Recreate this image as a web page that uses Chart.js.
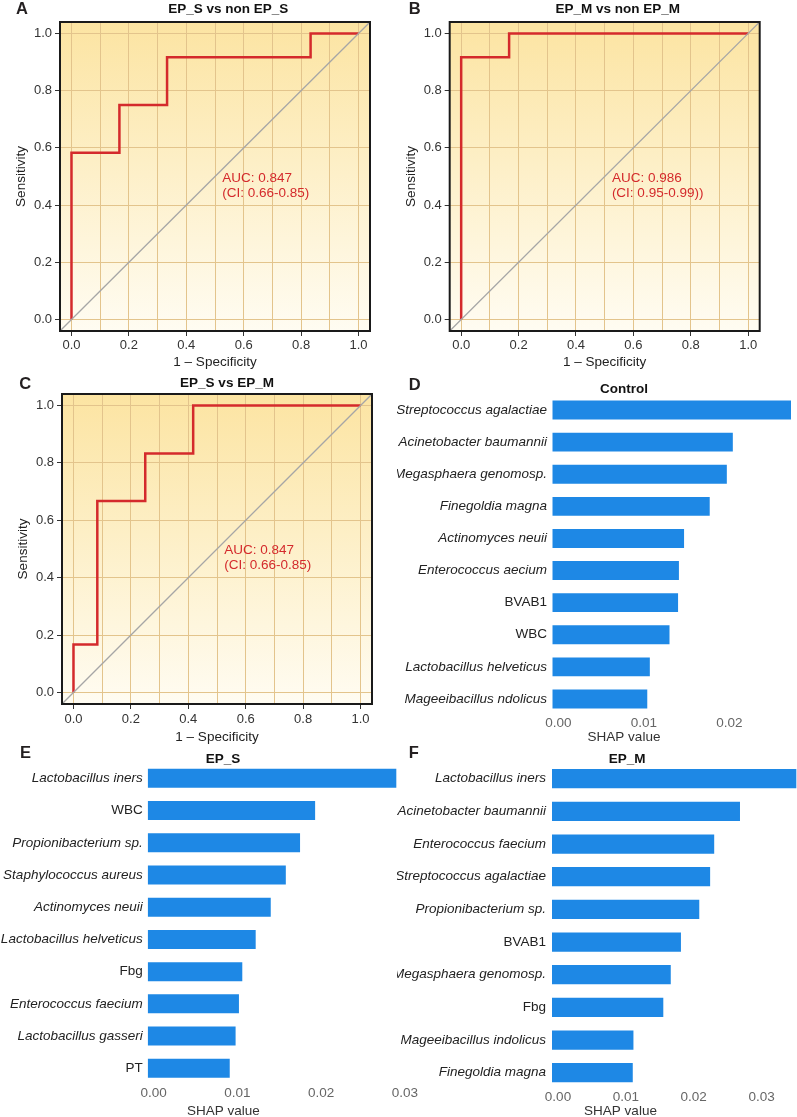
<!DOCTYPE html>
<html>
<head>
<meta charset="utf-8">
<title>ROC curves and SHAP values</title>
<script src="https://cdn.jsdelivr.net/npm/chart.js@4.4.1/dist/chart.umd.min.js"></script>
<style>
  body { margin: 0; background: #fff; }
  #wrap { position: relative; width: 797px; height: 1117px; overflow: hidden; background: #fff; }
  canvas { position: absolute; }
</style>
</head>
<body>
<div id="wrap">
  <canvas id="cA" width="397" height="370" style="left:0;top:0"></canvas>
  <canvas id="cB" width="400" height="370" style="left:397px;top:0"></canvas>
  <canvas id="cC" width="397" height="375" style="left:0;top:370px"></canvas>
  <canvas id="cD" width="400" height="375" style="left:397px;top:370px"></canvas>
  <canvas id="cE" width="430" height="377" style="left:0;top:740px"></canvas>
  <canvas id="cF" width="400" height="377" style="left:397px;top:740px"></canvas>
</div>
<script>
// ROC curves (1 - specificity, sensitivity)
const fprA = [0, 0, 0.167, 0.167, 0.333, 0.333, 0.833, 0.833, 1];
const tprA = [0, 0.583, 0.583, 0.75, 0.75, 0.917, 0.917, 1, 1];
const fprB = [0, 0, 0.167, 0.167, 1];
const tprB = [0, 0.917, 0.917, 1, 1];
const fprC = [0, 0, 0.083, 0.083, 0.25, 0.25, 0.417, 0.417, 1];
const tprC = [0, 0.167, 0.167, 0.667, 0.667, 0.833, 0.833, 1, 1];
const chanceLine = [-0.04, 1.04];
const aucA = ['AUC: 0.847', '(CI: 0.66-0.85)'];
const aucB = ['AUC: 0.986', '(CI: 0.95-0.99))'];
const aucC = ['AUC: 0.847', '(CI: 0.66-0.85)'];

// SHAP bar panels
const controlLabels = ['Streptococcus agalactiae', 'Acinetobacter baumannii', 'Megasphaera genomosp.', 'Finegoldia magna',
  'Actinomyces neuii', 'Enterococcus aecium', 'BVAB1', 'WBC', 'Lactobacillus helveticus', 'Mageeibacillus ndolicus'];
const controlShap = [0.0279, 0.0211, 0.0204, 0.0184, 0.0154, 0.0148, 0.0147, 0.0137, 0.0114, 0.0111];
const epsLabels = ['Lactobacillus iners', 'WBC', 'Propionibacterium sp.', 'Staphylococcus aureus', 'Actinomyces neuii',
  'Lactobacillus helveticus', 'Fbg', 'Enterococcus faecium', 'Lactobacillus gasseri', 'PT'];
const epsShap = [0.0297, 0.0200, 0.0182, 0.0165, 0.0147, 0.0129, 0.0113, 0.0109, 0.0105, 0.0098];
const epmLabels = ['Lactobacillus iners', 'Acinetobacter baumannii', 'Enterococcus faecium', 'Streptococcus agalactiae',
  'Propionibacterium sp.', 'BVAB1', 'Megasphaera genomosp.', 'Fbg', 'Mageeibacillus indolicus', 'Finegoldia magna'];
const epmShap = [0.0360, 0.0277, 0.0239, 0.0233, 0.0217, 0.0190, 0.0175, 0.0164, 0.0120, 0.0119];
const plainLabels = ['BVAB1', 'WBC', 'Fbg', 'PT'];

const FONT = "'Liberation Sans', Arial, Helvetica, sans-serif";
Chart.defaults.font.family = FONT;
Chart.defaults.animation = false;

// free text: panel letters, titles
const panelText = {
  id: 'panelText',
  afterDraw(chart, args, opts) {
    const ctx = chart.ctx;
    (opts.items || []).forEach(it => {
      ctx.save();
      ctx.font = it.font;
      ctx.fillStyle = it.color || '#111';
      ctx.textAlign = it.align || 'center';
      ctx.textBaseline = 'middle';
      ctx.fillText(it.text, it.x, it.y);
      ctx.restore();
    });
  }
};

// yellow panel background, black frame and AUC note for the ROC plots
const rocFrame = {
  id: 'rocFrame',
  beforeDraw(chart, args, opts) {
    if (!opts.on) return;
    const ctx = chart.ctx, a = chart.chartArea;
    const g = ctx.createLinearGradient(0, a.top, 0, a.bottom);
    g.addColorStop(0, '#fce4a2');
    g.addColorStop(0.45, '#fdefc6');
    g.addColorStop(1, '#fffcf2');
    ctx.save();
    ctx.fillStyle = g;
    ctx.fillRect(a.left, a.top, a.width, a.height);
    ctx.restore();
  },
  afterDraw(chart, args, opts) {
    if (!opts.on) return;
    const ctx = chart.ctx, a = chart.chartArea;
    ctx.save();
    ctx.strokeStyle = '#1a1a1a';
    ctx.lineWidth = 2;
    ctx.strokeRect(a.left, a.top, a.width, a.height);
    const px = chart.scales.x.getPixelForValue(0.525);
    const py = chart.scales.y.getPixelForValue(0.495);
    ctx.font = '13.5px ' + FONT;
    ctx.fillStyle = '#d42a2c';
    ctx.textAlign = 'left';
    ctx.textBaseline = 'middle';
    opts.auc.forEach((line, i) => ctx.fillText(line, px, py + i * 15));
    ctx.restore();
  }
};
Chart.register(panelText, rocFrame);

function makeRoc(id, fpr, tpr, auc, box, texts) {
  const curve = fpr.map((x, i) => ({ x: x, y: tpr[i] }));
  const diag = chanceLine.map(v => ({ x: v, y: v }));
  const isMajor = v => Math.round(v * 10) % 2 === 0;
  return new Chart(document.getElementById(id), {
    type: 'scatter',
    data: {
      datasets: [
        { data: diag, showLine: true, borderColor: '#a6a6a6', borderWidth: 1.3, pointRadius: 0 },
        { data: curve, showLine: true, borderColor: '#d42a2c', borderWidth: 2.5, pointRadius: 0, borderJoinStyle: 'miter' }
      ]
    },
    options: {
      responsive: false,
      layout: { padding: { left: 0, right: box.right, top: box.top, bottom: 0 } },
      plugins: {
        legend: { display: false },
        tooltip: { enabled: false },
        rocFrame: { on: true, auc: auc },
        panelText: { items: texts }
      },
      scales: {
        x: {
          type: 'linear', min: -0.04, max: 1.04,
          afterFit: s => { s.height = box.xh; },
          ticks: {
            stepSize: 0.1, includeBounds: false, autoSkip: false, maxRotation: 0,
            padding: box.xpad, color: '#333', font: { size: 13 },
            callback: v => isMajor(v) ? v.toFixed(1) : ''
          },
          grid: {
            color: '#e3c48c', lineWidth: 1, tickLength: 5,
            tickColor: c => (c.tick && isMajor(c.tick.value)) ? '#333' : 'rgba(0,0,0,0)'
          },
          border: { display: false },
          title: { display: true, text: '1 – Specificity', color: '#222', font: { size: 13.5 }, padding: { top: 0, bottom: 0 } }
        },
        y: {
          type: 'linear', min: -0.04, max: 1.04,
          afterFit: s => { s.width = box.yw; },
          ticks: {
            stepSize: 0.2, includeBounds: false, padding: 3, color: '#333', font: { size: 13 },
            callback: v => v.toFixed(1)
          },
          grid: { color: '#e3c48c', lineWidth: 1, tickLength: 5, tickColor: '#333' },
          border: { display: false },
          title: { display: true, text: 'Sensitivity', color: '#222', font: { size: 13.5 }, padding: { top: box.ytp, bottom: 0 } }
        }
      }
    }
  });
}

function makeBars(id, labels, values, max, box, texts) {
  return new Chart(document.getElementById(id), {
    type: 'bar',
    data: {
      labels: labels,
      datasets: [{
        data: values,
        backgroundColor: '#1e88e5',
        borderWidth: 0,
        barPercentage: 0.59,
        categoryPercentage: 1.0
      }]
    },
    options: {
      indexAxis: 'y',
      responsive: false,
      layout: { padding: { left: 0, right: box.right, top: box.top, bottom: 0 } },
      plugins: {
        legend: { display: false },
        tooltip: { enabled: false },
        panelText: { items: texts }
      },
      scales: {
        x: {
          type: 'linear', min: 0, max: max,
          afterFit: s => { s.height = box.xh; },
          ticks: {
            stepSize: 0.01, includeBounds: false, padding: box.xpad, labelOffset: 6,
            color: '#666', font: { size: 13.5 }, maxRotation: 0,
            callback: v => v.toFixed(2)
          },
          grid: { display: false, drawTicks: false },
          border: { display: false }
        },
        y: {
          afterFit: s => { s.width = box.yw; },
          ticks: {
            padding: box.ypad, color: '#222', autoSkip: false,
            font: c => ({ size: 13.5, style: plainLabels.includes(labels[c.index]) ? 'normal' : 'italic' })
          },
          grid: { display: false, drawTicks: false },
          border: { display: false }
        }
      }
    }
  });
}

const letterFont = 'bold 16.5px ' + FONT;
const titleFont = 'bold 13.5px ' + FONT;
const axisFont = '13.5px ' + FONT;

makeRoc('cA', fprA, tprA, aucA, { top: 22, right: 27, yw: 60, xh: 39, xpad: 2, ytp: 13.6 }, [
  { text: 'A', x: 16, y: 9, font: letterFont, align: 'left', color: '#231f20' },
  { text: 'EP_S vs non EP_S', x: 228.3, y: 9.3, font: titleFont }
]);
makeRoc('cB', fprB, tprB, aucB, { top: 22, right: 37.3, yw: 52.7, xh: 39, xpad: 2, ytp: 6.1 }, [
  { text: 'B', x: 11.7, y: 9, font: letterFont, align: 'left', color: '#231f20' },
  { text: 'EP_M vs non EP_M', x: 220.8, y: 9.3, font: titleFont }
]);
makeRoc('cC', fprC, tprC, aucC, { top: 24, right: 25, yw: 62, xh: 41, xpad: 2.5, ytp: 15.2 }, [
  { text: 'C', x: 19.3, y: 14.3, font: letterFont, align: 'left', color: '#231f20' },
  { text: 'EP_S vs EP_M', x: 227, y: 13.3, font: titleFont }
]);

makeBars('cD', controlLabels, controlShap, 0.0279, { top: 24, right: 6, yw: 155.3, xh: 30, xpad: 0, ypad: 5.3 }, [
  { text: 'D', x: 11.7, y: 15, font: letterFont, align: 'left', color: '#231f20' },
  { text: 'Control', x: 227, y: 19.3, font: titleFont },
  { text: 'SHAP value', x: 227, y: 367, font: axisFont, color: '#333' }
]);
makeBars('cE', epsLabels, epsShap, 0.0302, { top: 22.2, right: 29.5, yw: 147.7, xh: 32.6, xpad: 0.8, ypad: 5 }, [
  { text: 'E', x: 20, y: 13.3, font: letterFont, align: 'left', color: '#231f20' },
  { text: 'EP_S', x: 223, y: 19, font: titleFont },
  { text: 'SHAP value', x: 223.3, y: 371.7, font: axisFont, color: '#333' }
]);
makeBars('cF', epmLabels, epmShap, 0.0361, { top: 22.4, right: 0, yw: 155, xh: 28, xpad: 0.2, ypad: 6 }, [
  { text: 'F', x: 11.7, y: 13.3, font: letterFont, align: 'left', color: '#231f20' },
  { text: 'EP_M', x: 230.2, y: 19, font: titleFont },
  { text: 'SHAP value', x: 223.5, y: 371.7, font: axisFont, color: '#333' }
]);
</script>
</body>
</html>
